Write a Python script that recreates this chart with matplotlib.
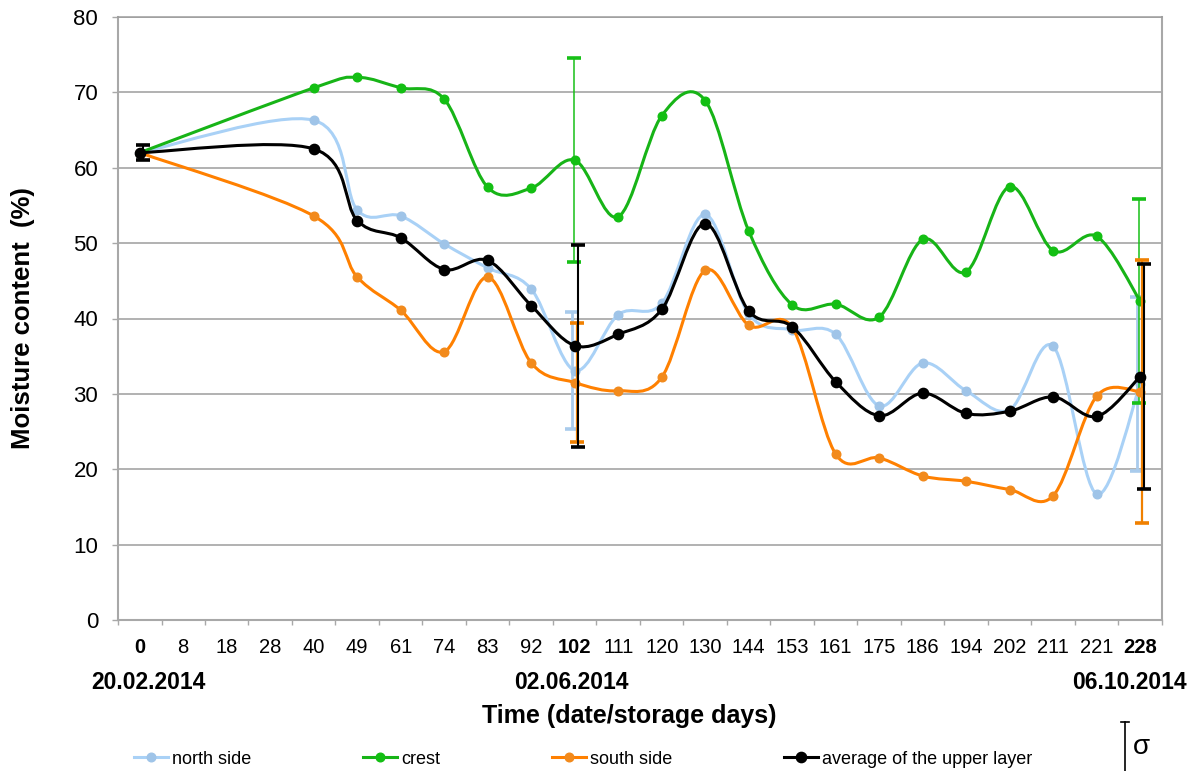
"""
Moisture content of the upper layer during storage.

Excel-style chart: category x axis (storage days), smoothed lines with
markers, and sigma error bars on the sampling dates 0, 102 and 228.
"""

import matplotlib
matplotlib.use("Agg")
import matplotlib.pyplot as plt
from matplotlib.lines import Line2D
from matplotlib.patches import PathPatch
from matplotlib.path import Path
from matplotlib.transforms import blended_transform_factory

# category axis: one slot per storage day
DAYS = [0, 8, 18, 28, 40, 49, 61, 74, 83, 92, 102, 111, 120, 130,
        144, 153, 161, 175, 186, 194, 202, 211, 221, 228]
BOLD_DAYS = [0, 102, 228]
DATE_DAYS = [0, 102, 228]
DATES = ["20.02.2014", "02.06.2014", "06.10.2014"]

# sampled days (nothing measured on day 8, 18 and 28)
SAMPLE_DAYS = [0, 40, 49, 61, 74, 83, 92, 102, 111, 120, 130, 144,
               153, 161, 175, 186, 194, 202, 211, 221, 228]
NORTH = [62.0, 66.3, 54.4, 53.6, 49.9, 46.7, 43.9, 33.1, 40.5, 42.0, 53.8,
         40.6, 38.5, 37.9, 28.4, 34.1, 30.4, 27.9, 36.3, 16.7, 31.3]
CREST = [62.0, 70.6, 72.0, 70.6, 69.1, 57.4, 57.3, 61.0, 53.5, 66.9, 68.9,
         51.6, 41.8, 41.9, 40.2, 50.5, 46.2, 57.5, 49.0, 50.9, 42.3]
SOUTH = [62.0, 53.6, 45.5, 41.1, 35.6, 45.5, 34.1, 31.5, 30.4, 32.2, 46.4,
         39.1, 38.8, 22.0, 21.5, 19.1, 18.4, 17.3, 16.5, 29.7, 30.3]
AVERAGE = [62.0, 62.5, 53.0, 50.7, 46.5, 47.7, 41.7, 36.4, 37.9, 41.2, 52.6,
           41.0, 38.9, 31.6, 27.1, 30.1, 27.4, 27.7, 29.6, 27.0, 32.3]

# standard deviations (sigma)
SIGMA_DAYS = [102, 228]
NORTH_SD = [7.7, 11.5]
CREST_SD = [13.5, 13.5]
SOUTH_SD = [7.9, 17.4]
AVG_SIGMA_DAYS = [0, 102, 228]
AVERAGE_SD = [1.0, 13.4, 14.9]

W, H = 1198, 771
GRID = "#9c9c9c"
SPINE = "#a8a8a8"


def _smooth_path(xs, ys):
    """Catmull-Rom style bezier through the points (Excel 'smoothed line')."""
    pts = list(zip(xs, ys))
    n = len(pts)
    verts = [pts[0]]
    codes = [Path.MOVETO]
    for i in range(n - 1):
        p0 = pts[max(i - 1, 0)]
        p1 = pts[i]
        p2 = pts[i + 1]
        p3 = pts[min(i + 2, n - 1)]
        c1 = (p1[0] + (p2[0] - p0[0]) / 6, p1[1] + (p2[1] - p0[1]) / 6)
        c2 = (p2[0] - (p3[0] - p1[0]) / 6, p2[1] - (p3[1] - p1[1]) / 6)
        verts += [c1, c2, p2]
        codes += [Path.CURVE4] * 3
    return Path(verts, codes)


def _draw_series(ax, label, values, sd_days, sd, style, z):
    xs = [DAYS.index(d) for d in SAMPLE_DAYS]
    # error bars first, slightly shifted like Excel stacks them
    ex = [DAYS.index(d) + style["dx"] for d in sd_days]
    ey = [values[SAMPLE_DAYS.index(d)] for d in sd_days]
    ax.errorbar(ex, ey, yerr=sd, fmt="none", ecolor=style["err"],
                elinewidth=style["elw"], capsize=5.2, capthick=2.6,
                zorder=z)
    ax.add_patch(PathPatch(_smooth_path(xs, values), fill=False,
                           edgecolor=style["line"], linewidth=2.2,
                           capstyle="round", joinstyle="round",
                           zorder=z + 0.1))
    ax.plot(xs, values, "o", ls="none", ms=style["ms"],
            color=style["marker"], zorder=z + 0.2)
    return Line2D([], [], color=style["line"], lw=2.2, marker="o",
                  ms=style["ms"], mfc=style["marker"], mec=style["marker"],
                  label=label)


def main():
    plt.rcParams.update({
        "font.family": ["Liberation Sans", "DejaVu Sans"],
    })
    fig = plt.figure(figsize=(W / 100, H / 100), dpi=100, facecolor="white")
    ax = fig.add_axes([118 / W, 1 - 620 / H, 1044 / W, 603 / H])

    ax.set_xlim(-0.5, len(DAYS) - 0.5)
    ax.set_ylim(0, 80)

    styles = {
        "north": dict(line="#a9d1f6", marker="#9fc4e8", err="#a9cbec",
                      elw=2.0, ms=6.2, dx=-0.07),
        "crest": dict(line="#17b417", marker="#13bf13", err="#17c017",
                      elw=1.1, ms=6.2, dx=-0.02),
        "south": dict(line="#ff8000", marker="#f28a1c", err="#f08000",
                      elw=1.6, ms=6.2, dx=0.05),
        "avg": dict(line="black", marker="black", err="black",
                    elw=1.5, ms=7.4, dx=0.08),
    }
    handles = [
        _draw_series(ax, "north side", NORTH, SIGMA_DAYS, NORTH_SD,
                     styles["north"], 2),
        _draw_series(ax, "crest", CREST, SIGMA_DAYS, CREST_SD,
                     styles["crest"], 3),
        _draw_series(ax, "south side", SOUTH, SIGMA_DAYS, SOUTH_SD,
                     styles["south"], 4),
        _draw_series(ax, "average of the upper layer", AVERAGE,
                     AVG_SIGMA_DAYS, AVERAGE_SD, styles["avg"], 5),
    ]

    # y axis
    ax.set_yticks(range(0, 81, 10))
    ax.yaxis.grid(True, color=GRID, linewidth=1.1)
    ax.set_axisbelow(True)
    ax.tick_params(axis="y", length=4.3, width=1.0, color=SPINE, pad=10,
                   labelsize=16)

    # x axis: labels at category centres, tick marks between categories
    ax.set_xticks(range(len(DAYS)))
    ax.set_xticklabels([str(d) for d in DAYS])
    for lab, d in zip(ax.get_xticklabels(), DAYS):
        if d in BOLD_DAYS:
            lab.set_fontweight("bold")
    ax.set_xticks([i - 0.5 for i in range(len(DAYS) + 1)], minor=True)
    ax.tick_params(axis="x", which="major", length=0, pad=13, labelsize=14.5)
    ax.tick_params(axis="x", which="minor", length=3.6, width=1.0,
                   color=SPINE)

    for s in ax.spines.values():
        s.set_color(SPINE)
        s.set_linewidth(1.5)
    ax.spines["top"].set_color(GRID)
    ax.spines["top"].set_linewidth(1.1)

    # date labels under the bold days
    trans = blended_transform_factory(ax.transData, ax.transAxes)
    date_dx = [0.2, -0.07, -0.24]
    for d, txt, dx in zip(DATE_DAYS, DATES, date_dx):
        ax.text(DAYS.index(d) + dx, -0.1036, txt, transform=trans,
                ha="center", va="center", fontsize=16.5, fontweight="bold")

    ax.set_xlabel("Time (date/storage days)", fontsize=18,
                  fontweight="bold", va="center")
    ax.xaxis.set_label_coords(0.49, -0.159)
    ax.set_ylabel("Moisture content  (%)", fontsize=18.5,
                  fontweight="bold", va="center")
    ax.yaxis.set_label_coords(-0.091, 0.5)

    fig.legend(handles=handles, ncol=4, loc="center left",
               bbox_to_anchor=(134 / W, 1 - 759 / H), frameon=False,
               fontsize=13, handlelength=1.9, handletextpad=0.2,
               columnspacing=6.2, borderpad=0, borderaxespad=0)

    # sigma key in the bottom-right corner
    fig.add_artist(Line2D([1125 / W, 1125 / W], [1 - 722 / H, 0],
                          color="black", lw=1.2))
    fig.add_artist(Line2D([1121 / W, 1129 / W], [1 - 722 / H] * 2,
                          color="black", lw=1.2))
    fig.text(1141 / W, 1 - 747 / H, "σ", fontsize=20,
             ha="center", va="center")

    fig.savefig("out.png", dpi=100, facecolor="white")
    plt.close(fig)


if __name__ == "__main__":
    main()
